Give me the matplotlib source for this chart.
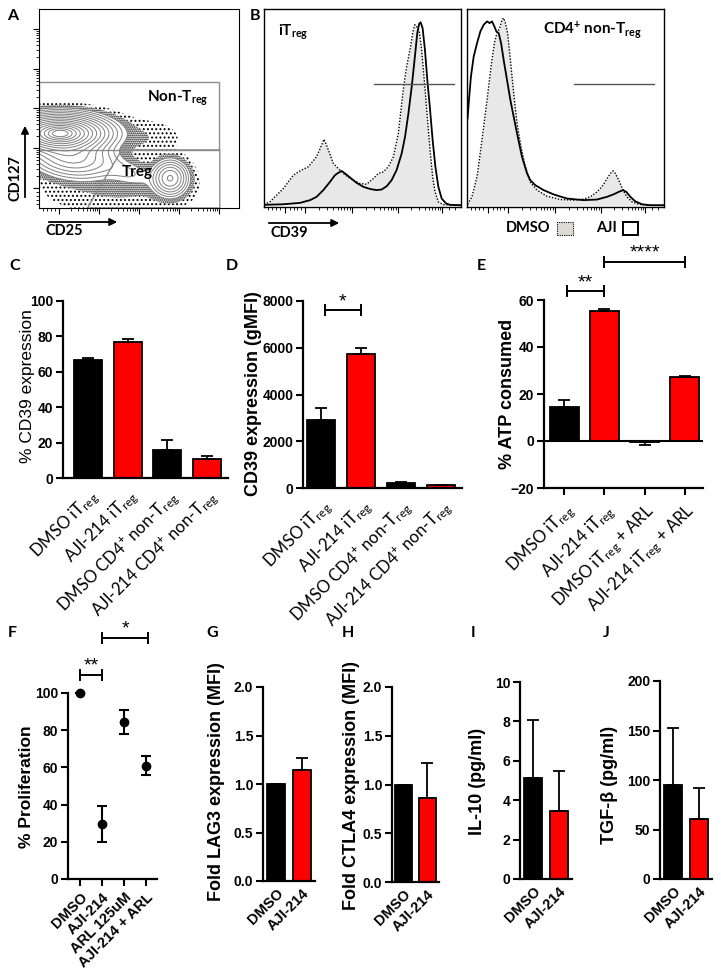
import numpy as np
import matplotlib
matplotlib.use("Agg")
import matplotlib.pyplot as plt
from matplotlib.patches import Rectangle, Polygon, FancyArrowPatch

plt.rcParams.update({
    'font.family': ['Liberation Sans', 'DejaVu Sans'],
    'mathtext.fontset': 'custom',
    'mathtext.rm': 'Lato',
    'mathtext.it': 'Lato:italic',
    'mathtext.bf': 'Lato:bold',
    'hatch.color': 'black',
    'hatch.linewidth': 0.9,
    'axes.linewidth': 1.5,
})

# ------------------------------------------------------------------ data
# Panel A: flow populations (decade units): centre x/y, spread x/y, angle, weight
A_cx = [0.53, 0.80, 3.28, 2.20, 2.60, 2.00]
A_cy = [1.88, 1.30, 0.75, 0.90, 1.75, 0.40]
A_sx = [0.56, 0.55, 0.22, 0.45, 0.60, 1.20]
A_sy = [0.22, 0.27, 0.22, 0.18, 0.30, 0.35]
A_ang = [0, -8, 0, -15, 0, 0]
A_w = [1.00, 0.20, 0.081, 0.0158, 0.0075, 0.0193]

# Panel B: histograms (% of axis width, % of max)
B1_dmso_x = [0, 3.0, 9.8, 14.9, 18.3, 22.5, 26.7, 30.5, 32.7, 35.2, 37.7, 40.3, 43.7, 48.7, 52.1, 55.5,
             58.0, 60.6, 63.1, 65.7, 68.2, 70.7, 72.4, 74.1, 75.8, 76.6, 77.5, 78.8, 80.0, 81.2, 82.6,
             84.3, 85.6, 86.8, 88.5, 91.0, 100]
B1_dmso_y = [0.5, 1.7, 8.5, 15.3, 17.5, 19.6, 24.7, 33.6, 28.1, 21.3, 18.7, 16.2, 13.6, 11.1, 10.7, 13.6,
             16.2, 17.0, 19.6, 24.7, 36.6, 58.8, 70.7, 79.2, 89.4, 92.0, 91.1, 88.6, 79.2, 65.6, 48.6,
             28.1, 14.5, 6.8, 1.7, 0.3, 0]
B1_aji_x = [0, 9.8, 18.3, 23.4, 26.7, 30.1, 33.5, 36.0, 37.7, 39.4, 41.1, 43.7, 47.0, 50.4, 53.8, 57.2,
            59.7, 62.3, 64.8, 67.3, 69.9, 71.6, 73.3, 75.0, 76.6, 77.8, 78.8, 79.5, 80.5, 81.7, 82.9,
            84.3, 85.6, 87.0, 88.5, 90.2, 92.4, 94.4, 100]
B1_aji_y = [0.2, 0.5, 1.2, 2.6, 4.3, 7.7, 11.9, 15.3, 16.5, 17.5, 16.2, 14.1, 11.4, 9.4, 8.3, 7.7,
            8.0, 9.7, 12.8, 17.9, 26.4, 34.9, 46.8, 60.5, 75.8, 87.7, 92.5, 93.2, 90.3, 79.2, 63.9,
            48.6, 33.2, 19.6, 9.4, 3.4, 0.9, 0.2, 0]
B2_dmso_x = [0.3, 2.5, 5.1, 7.6, 10.2, 12.2, 13.9, 15.2, 16.6, 17.8, 18.6, 19.5, 20.6, 22.0, 23.7, 25.4,
             27.4, 29.6, 32.1, 35.5, 40.6, 47.4, 54.1, 59.2, 62.6, 66.0, 68.5, 71.1, 72.8, 74.1, 75.3,
             77.0, 79.2, 81.2, 83.8, 87.1, 91.4, 100]
B2_dmso_y = [0.5, 4.3, 14.5, 33.2, 53.7, 70.7, 82.6, 87.7, 90.3, 94.5, 95.4, 92.8, 87.7, 74.1, 57.1, 41.7,
             29.8, 19.6, 11.9, 7.7, 4.6, 2.9, 2.6, 3.1, 4.3, 6.8, 9.4, 13.6, 16.2, 17.5, 16.2,
             12.8, 7.7, 4.3, 1.7, 0.5, 0, 0]
B2_aji_x = [0.3, 1.0, 2.0, 3.4, 5.1, 6.8, 8.5, 10.2, 11.5, 12.7, 13.9, 14.9, 16.1, 17.3, 18.6, 20.3,
            22.0, 23.7, 25.4, 27.9, 30.5, 32.1, 34.7, 38.9, 44.0, 50.8, 59.2, 66.0, 71.1, 74.5, 77.0,
            79.2, 80.9, 82.9, 85.4, 88.8, 93.1, 100]
B2_aji_y = [44.3, 53.7, 65.6, 75.8, 82.6, 88.6, 92.0, 93.7, 92.8, 93.7, 91.1, 88.6, 87.7, 82.6, 74.1, 63.9,
            53.7, 45.1, 36.6, 24.7, 16.2, 12.8, 10.2, 7.7, 5.5, 3.4, 2.6, 2.9, 4.3, 5.6, 6.8,
            7.7, 6.8, 4.3, 2.0, 0.5, 0, 0]

# Panel C
C_labels = [r'DMSO iT$_{\mathrm{reg}}$', r'AJI-214 iT$_{\mathrm{reg}}$',
            r'DMSO CD4$^{+}$ non-T$_{\mathrm{reg}}$', r'AJI-214 CD4$^{+}$ non-T$_{\mathrm{reg}}$']
C_vals = [66.5, 77.0, 16.0, 10.5]
C_err = [1.5, 1.5, 5.3, 2.0]
# Panel D
D_vals = [2900, 5750, 200, 110]
D_err = [520, 230, 60, 30]
# Panel E
E_labels = [r'DMSO iT$_{\mathrm{reg}}$', r'AJI-214 iT$_{\mathrm{reg}}$',
            r'DMSO iT$_{\mathrm{reg}}$ + ARL', r'AJI-214 iT$_{\mathrm{reg}}$ + ARL']
E_vals = [14.5, 55.3, -0.4, 27.2]
E_err = [3.0, 0.7, 1.1, 0.4]
# Panel F
F_labels = ['DMSO', 'AJI-214', 'ARL 125uM', 'AJI-214 + ARL']
F_vals = [100, 29.5, 84.5, 61.0]
F_err = [0, 9.7, 6.5, 5.0]
# Panels G-J
GJ_labels = ['DMSO', 'AJI-214']
G_vals = [1.0, 1.14]; G_err = [0, 0.13]
H_vals = [1.0, 0.86]; H_err = [0, 0.36]
I_vals = [5.15, 3.45]; I_err = [2.9, 2.05]
J_vals = [95, 61]; J_err = [58, 31]

BAR_COLORS = ['#000000', '#ff0000', '#000000', '#ff0000']

# ------------------------------------------------------------------ figure
W, H = 721, 974
fig = plt.figure(figsize=(W / 100, H / 100), dpi=100)


def px_axes(l, t, r, b):
    return fig.add_axes([l / W, 1 - b / H, (r - l) / W, (b - t) / H])


def ftext(x, y, s, **kw):
    return fig.text(x / W, 1 - y / H, s, **kw)


def farrow(x1, y1, x2, y2):
    fig.add_artist(FancyArrowPatch((x1 / W, 1 - y1 / H), (x2 / W, 1 - y2 / H),
                                   transform=fig.transFigure, arrowstyle='-|>',
                                   mutation_scale=11, lw=1.3, color='k'))


def frect(x, y, w, h, **kw):
    fig.add_artist(Rectangle((x / W, 1 - (y + h) / H), w / W, h / H,
                             transform=fig.transFigure, **kw))


LATO_B = dict(family='Lato', fontweight='bold')

# ---------------- Panel A
axA = px_axes(39, 9, 239, 208)
axA.set_xlim(0, 5)
axA.set_ylim(0, 5)
gx = np.linspace(0, 5, 500)
X, Y = np.meshgrid(gx, gx)
Dn = np.zeros_like(X)
for cx, cy, sx, sy, ang, w in zip(A_cx, A_cy, A_sx, A_sy, A_ang, A_w):
    t = np.deg2rad(ang)
    dx, dy = X - cx, Y - cy
    u = dx * np.cos(t) + dy * np.sin(t)
    v = -dx * np.sin(t) + dy * np.cos(t)
    Dn += w / (2 * np.pi * sx * sy) * np.exp(-0.5 * ((u / sx) ** 2 + (v / sy) ** 2))
peak = Dn.max()
radii = np.linspace(0.35, 2.9, 15)
levels = np.sort(peak * np.exp(-radii ** 2 / 2))
L0 = levels[0]
axA.contourf(X, Y, Dn, levels=[L0 * 0.12, L0 * 0.35, L0], colors='none',
             hatches=['....', '........'])
axA.contour(X, Y, Dn, levels=levels, colors='#808080', linewidths=0.7)
# gates
axA.add_patch(Rectangle((0, 1.46), 4.5, 1.71, fill=False, ec='#8c8c8c', lw=1.0))
axA.add_patch(Polygon([(2.07, 1.46), (4.52, 1.46), (4.52, 0.0), (1.21, 0.0)], closed=True,
                      fill=False, ec='#8c8c8c', lw=1.0))
axA.text(2.7, 2.75, r'Non-T$_{\mathbf{reg}}$', fontsize=11, va='center', ha='left', **LATO_B)
axA.text(2.08, 0.9, 'Treg', fontsize=11, va='center', ha='left', **LATO_B)
majA = [0.5, 1.5, 2.5, 3.5, 4.5]
minA = [0.1, 0.2, 0.3, 0.4] + [m + np.log10(k) for m in majA[:-1] for k in range(2, 10)]
for axis in (axA.xaxis, axA.yaxis):
    axis.set_ticks(majA)
    axis.set_ticks(minA, minor=True)
axA.set_xticklabels([]); axA.set_yticklabels([])
axA.tick_params(which='major', direction='out', length=4, width=0.8)
axA.tick_params(which='minor', direction='out', length=2, width=0.6)
for s in axA.spines.values():
    s.set_linewidth(0.8)
ftext(16, 178, 'CD127', rotation=90, ha='center', va='center', fontsize=10.5, **LATO_B)
farrow(25, 200, 25, 123)
ftext(64, 231, 'CD25', ha='center', va='center', fontsize=10.5, **LATO_B)
farrow(46, 222, 120, 222)

# ---------------- Panel B
majB = [10.7, 20.8, 44.5, 68.0, 90.5]
minB = [2, 4, 6, 8, 13, 15, 17, 19] + [a + (b - a) * np.log10(k) for a, b in
                                       zip(majB[1:-1], majB[2:]) for k in range(2, 10)] + [94, 97]
for (l, r), xs in zip([(264, 461), (467, 664)],
                      [(B1_dmso_x, B1_dmso_y, B1_aji_x, B1_aji_y),
                       (B2_dmso_x, B2_dmso_y, B2_aji_x, B2_aji_y)]):
    ax = px_axes(l, 9, r, 207)
    ax.set_xlim(0, 100)
    ax.set_ylim(-0.9, 100)
    ax.fill_between(xs[0], xs[1], 0, color='#e8e8e8', lw=0)
    ax.plot(xs[0], xs[1], color='k', ls=(0, (1, 1.2)), lw=1.0)
    ax.plot(xs[2], xs[3], color='k', lw=1.3)
    ax.set_xticks(majB)
    ax.set_xticks(minB, minor=True)
    ax.set_yticks([])
    ax.set_xticklabels([])
    ax.tick_params(which='major', direction='out', length=4, width=0.8)
    ax.tick_params(which='minor', direction='out', length=2, width=0.6)
    for s in ax.spines.values():
        s.set_linewidth(1.0)
    gx0 = 55.8 if l == 264 else 54.3
    ax.plot([gx0, gx0 + 40.5], [61.8, 61.8], color='#555555', lw=1.0)
ftext(278, 32, r'iT$_{\mathbf{reg}}$', ha='left', va='center', fontsize=11, **LATO_B)
ftext(593, 30, r'CD4$^{\mathbf{+}}$ non-T$_{\mathbf{reg}}$', ha='center', va='center', fontsize=11, **LATO_B)
ftext(289, 233, 'CD39', ha='center', va='center', fontsize=10.5, **LATO_B)
farrow(266, 223, 342, 223)
ftext(528, 228, 'DMSO', ha='center', va='center', fontsize=10.5, **LATO_B)
frect(557, 222, 16, 13, fc='#dcdcd4', ec='k', lw=0.8, ls=(0, (1, 1)))
ftext(606, 228, 'AJI', ha='center', va='center', fontsize=10.5, **LATO_B)
frect(623, 222, 15, 13, fc='white', ec='k', lw=1.4)


# ---------------- helpers for bar panels
def style_axes(ax, yticks, ylabels, xticks_len=0):
    for s in ['top', 'right']:
        ax.spines[s].set_visible(False)
    ax.spines['left'].set_linewidth(1.6)
    ax.spines['bottom'].set_linewidth(1.6)
    ax.set_yticks(yticks)
    ax.set_yticklabels(ylabels, fontweight='bold', fontsize=10)
    ax.tick_params(axis='y', direction='out', length=5, width=1.5, pad=2)
    ax.tick_params(axis='x', direction='out', length=xticks_len, width=1.5)


def bracket(ax, x1, x2, y, cap, text, fs=14):
    ax.plot([x1, x2], [y, y], color='k', lw=1.4, clip_on=False)
    ax.plot([x1, x1], [y - cap, y + cap], color='k', lw=1.4, clip_on=False)
    ax.plot([x2, x2], [y - cap, y + cap], color='k', lw=1.4, clip_on=False)
    ax.annotate(text, xy=((x1 + x2) / 2, y), xytext=(0, 0), textcoords='offset points',
                ha='center', va='bottom', fontsize=fs, annotation_clip=False)


def bars(ax, vals, errs, width, colors):
    xs = np.arange(len(vals))
    ax.bar(xs, vals, width=width, color=colors, edgecolor='k', linewidth=1.3, zorder=2)
    lo = [e if v < 0 else 0 for v, e in zip(vals, errs)]
    hi = [0 if v < 0 else e for v, e in zip(vals, errs)]
    ax.errorbar(xs, vals, yerr=[lo, hi], fmt='none', ecolor='k', elinewidth=1.3,
                capsize=4, capthick=1.3, zorder=3)


XL_FS = 12

# ---------------- Panel C
axC = px_axes(63, 301, 228, 478)
bars(axC, C_vals, C_err, 0.7, BAR_COLORS)
axC.set_xlim(-0.63, 3.53)
axC.set_ylim(0, 100)
style_axes(axC, [0, 20, 40, 60, 80, 100], ['0', '20', '40', '60', '80', '100'])
axC.set_xticks(range(4))
axC.set_xticklabels(C_labels, rotation=45, ha='right', rotation_mode='anchor',
                    fontfamily='Lato', fontsize=XL_FS)
axC.tick_params(axis='x', pad=6)
ftext(28, 386, '% CD39 expression', rotation=90, ha='center', va='center', fontsize=12.5)

# ---------------- Panel D
axD = px_axes(303, 301, 462, 488)
bars(axD, D_vals, D_err, 0.7, BAR_COLORS)
axD.set_xlim(-0.46, 3.53)
axD.set_ylim(0, 8000)
style_axes(axD, [0, 2000, 4000, 6000, 8000], ['0', '2000', '4000', '6000', '8000'])
axD.set_xticks(range(4))
axD.set_xticklabels(C_labels, rotation=45, ha='right', rotation_mode='anchor',
                    fontfamily='Lato', fontsize=XL_FS)
axD.tick_params(axis='x', pad=6)
bracket(axD, 0.08, 1.0, 7600, 214, '*')
ftext(253, 394, 'CD39 expression (gMFI)', rotation=90, ha='center', va='center',
      fontsize=13, fontweight='bold')

# ---------------- Panel E
axE = px_axes(544, 300, 703, 488)
bars(axE, E_vals, E_err, 0.72, BAR_COLORS)
axE.axhline(0, color='k', lw=1.5, zorder=4)
axE.set_xlim(-0.5, 3.45)
axE.set_ylim(-20, 60)
style_axes(axE, [-20, 0, 20, 40, 60], ['\u221220', '0', '20', '40', '60'], xticks_len=5)
axE.set_xticks(range(4))
axE.set_xticklabels(E_labels, rotation=45, ha='right', rotation_mode='anchor',
                    fontfamily='Lato', fontsize=XL_FS)
axE.tick_params(axis='x', pad=4)
bracket(axE, 0.07, 1.0, 63.8, 2.1, '**')
bracket(axE, 1.0, 3.0, 76.2, 2.1, '****')
ftext(508, 394, '% ATP consumed', rotation=90, ha='center', va='center',
      fontsize=13, fontweight='bold')

# ---------------- Panel F
axF = px_axes(68, 693, 157, 879)
axF.errorbar(range(4), F_vals, yerr=F_err, fmt='o', color='k', ms=6, elinewidth=1.5,
             capsize=3.5, capthick=1.5, clip_on=False, zorder=3)
axF.set_xlim(-0.55, 3.5)
axF.set_ylim(0, 100)
style_axes(axF, [0, 20, 40, 60, 80, 100], ['0', '20', '40', '60', '80', '100'], xticks_len=5)
axF.set_xticks(range(4))
axF.set_xticklabels(F_labels, rotation=45, ha='right', rotation_mode='anchor',
                    fontweight='bold', fontsize=10.5)
axF.tick_params(axis='x', pad=3)
bracket(axF, 0.0, 1.0, 109.7, 2.7, '**')
bracket(axF, 1.0, 3.1, 129.6, 2.7, '*')
ftext(27, 787, '% Proliferation', rotation=90, ha='center', va='center',
      fontsize=12.5, fontweight='bold')

# ---------------- Panels G-J
small = [
    ((263, 687, 315, 881), G_vals, G_err, (0, 2.0), [0, 0.5, 1.0, 1.5, 2.0],
     ['0.0', '0.5', '1.0', '1.5', '2.0'], 'Fold LAG3 expression (MFI)', (217, 782)),
    ((392, 687, 439, 882), H_vals, H_err, (0, 2.0), [0, 0.5, 1.0, 1.5, 2.0],
     ['0.0', '0.5', '1.0', '1.5', '2.0'], 'Fold CTLA4 expression (MFI)', (352, 786)),
    ((520, 682, 572, 879), I_vals, I_err, (0, 10), [0, 2, 4, 6, 8, 10],
     ['0', '2', '4', '6', '8', '10'], 'IL-10 (pg/ml)', (478, 781)),
    ((660, 681, 712, 879), J_vals, J_err, (0, 200), [0, 50, 100, 150, 200],
     ['0', '50', '100', '150', '200'], 'TGF-\u03b2 (pg/ml)', (610, 785)),
]
for rect, vals, errs, ylim, yt, ytl, ylab, (lx, ly) in small:
    ax = px_axes(*rect)
    bars(ax, vals, errs, 0.72, BAR_COLORS[:2])
    ax.set_xlim(-0.5, 1.5)
    ax.set_ylim(*ylim)
    style_axes(ax, yt, ytl)
    ax.set_xticks(range(2))
    ax.set_xticklabels(GJ_labels, rotation=45, ha='right', rotation_mode='anchor',
                       fontweight='bold', fontsize=10.5)
    ax.tick_params(axis='x', pad=4)
    ftext(lx, ly, ylab, rotation=90, ha='center', va='center', fontsize=13, fontweight='bold')

# ---------------- panel letters
for letter, (x, y) in zip('ABCDEFGHIJ', [(13, 16), (255, 16), (15, 266), (232, 266), (481, 266),
                                          (12, 633), (212, 633), (348, 633), (473, 633), (606, 633)]):
    ftext(x, y, letter, ha='center', va='center', fontsize=11.5, **LATO_B)

fig.savefig('out.png', dpi=100)
